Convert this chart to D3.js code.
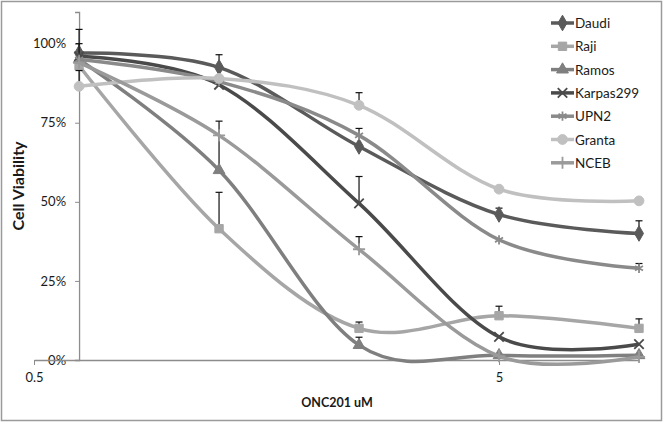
<!DOCTYPE html>
<html>
<head>
<meta charset="utf-8">
<script src="https://cdn.jsdelivr.net/npm/d3@7"></script>
<style>
  body { margin: 0; background: #fff; }
  text { font-family: Lato, "Open Sans", sans-serif; fill: #1a1a1a; }
</style>
</head>
<body>
<svg id="chart" width="664" height="423"></svg>
<script>
// doses (uM) on a log axis
const doses = [0.625, 1.25, 2.5, 5, 10];

const seriesNames = ["Daudi", "Raji", "Ramos", "Karpas299", "UPN2", "Granta", "NCEB"];

// viability in %
const daudi   = [97, 92.5, 67.5, 46, 40];
const raji    = [93, 41.5, 10, 14, 10];
const ramos   = [95, 60, 4.7, 1.5, 1.5];
const karpas  = [96, 87, 49.5, 7.3, 5];
const upn2    = [95, 88, 71, 38, 29];
const granta  = [86.5, 89, 80.5, 54, 50.3];
const nceb    = [94, 71, 35, 1.2, 1];

// plus-only error bars
const daudiErr  = [7.5, 4, 0, 2, 4];
const rajiErr   = [0, 11.5, 2, 3, 3];
const ramosErr  = [0, 15.5, 2.5, 0, 0];
const karpasErr = [4, 0, 8.5, 0, 0];
const upn2Err   = [0, 0, 2.2, 0, 1.5];
const grantaErr = [5, 0, 4, 0, 0];
const ncebErr   = [0, 0, 4, 0, 0];

const yTicks = [0, 0.25, 0.5, 0.75, 1.0];
const xTicks = [0.5, 5];

const values = [daudi, raji, ramos, karpas, upn2, granta, nceb];
const errs = [daudiErr, rajiErr, ramosErr, karpasErr, upn2Err, grantaErr, ncebErr];
const colors = ["#5a5a5a", "#a6a6a6", "#7f7f7f", "#4a4a4a", "#8a8a8a", "#c0c0c0", "#9a9a9a"];
const symbols = [d3.symbolDiamond, d3.symbolSquare, d3.symbolTriangle, d3.symbolX,
                 d3.symbolAsterisk, d3.symbolCircle, d3.symbolPlus];
const symSize = [70, 70, 60, 60, 60, 75, 50];
const strokeSym = [false, false, false, true, true, false, true];

const svg = d3.select("#chart");

// outer frame
svg.append("rect")
  .attr("x", 1.5).attr("y", 1.5)
  .attr("width", 660).attr("height", 419)
  .attr("fill", "none").attr("stroke", "#9a9a9a").attr("stroke-width", 1.5);

const x = d3.scaleLog().domain([0.5, 10]).range([34, 639]);
const y = d3.scaleLinear().domain([0, 1.1]).range([360, 12]);

// y axis crosses at the first dose
const yAxisX = x(doses[0]);
svg.append("g")
  .attr("transform", `translate(${yAxisX},0)`)
  .call(d3.axisLeft(y).tickValues(yTicks).tickFormat(d3.format(".0%")).tickSize(4).tickPadding(9))
  .call(g => g.select(".domain").attr("stroke", "#8c8c8c").attr("stroke-width", 1.3))
  .call(g => g.selectAll(".tick line").attr("stroke", "#8c8c8c"))
  .call(g => g.selectAll(".tick text").attr("font-size", 13).attr("fill", "#1a1a1a")
    .style("font-family", "Lato, 'Open Sans', sans-serif"));

svg.append("g")
  .attr("transform", `translate(0,${y(0)})`)
  .call(d3.axisBottom(x).tickValues(xTicks).tickFormat(d3.format("")).tickSize(5).tickPadding(8).tickSizeOuter(0))
  .call(g => g.select(".domain").attr("stroke", "#8c8c8c").attr("stroke-width", 1.3))
  .call(g => g.selectAll(".tick line").attr("stroke", "#8c8c8c"))
  .call(g => g.selectAll(".tick text").attr("font-size", 13).attr("fill", "#1a1a1a")
    .style("font-family", "Lato, 'Open Sans', sans-serif"));

// axis titles
svg.append("text")
  .attr("transform", "translate(24,186) rotate(-90)")
  .attr("text-anchor", "middle")
  .attr("font-size", 16).attr("font-weight", "bold")
  .text("Cell Viability");

svg.append("text")
  .attr("x", 337).attr("y", 407)
  .attr("text-anchor", "middle")
  .attr("font-size", 12.5).attr("font-weight", "bold")
  .text("ONC201 uM");

const line = d3.line()
  .x(d => x(d[0]))
  .y(d => y(d[1] / 100))
  .curve(d3.curveCardinal.tension(0));

const plot = svg.append("g");

values.forEach((vals, i) => {
  const pts = doses.map((d, j) => [d, vals[j]]);
  const g = plot.append("g");

  // error bars under the line
  pts.forEach((p, j) => {
    const e = errs[i][j];
    if (!e) return;
    const px = x(p[0]), y0 = y(p[1] / 100), y1 = y((p[1] + e) / 100);
    g.append("line").attr("x1", px).attr("x2", px).attr("y1", y0).attr("y2", y1)
      .attr("stroke", "#111").attr("stroke-width", 1.2);
    g.append("line").attr("x1", px - 3.5).attr("x2", px + 3.5).attr("y1", y1).attr("y2", y1)
      .attr("stroke", "#111").attr("stroke-width", 1.2);
  });

  g.append("path")
    .attr("d", line(pts))
    .attr("fill", "none")
    .attr("stroke", colors[i])
    .attr("stroke-width", 3.5);

  g.selectAll("path.mk")
    .data(pts)
    .join("path")
    .attr("class", "mk")
    .attr("transform", d => `translate(${x(d[0])},${y(d[1] / 100)})`)
    .attr("d", d3.symbol(symbols[i], symSize[i]))
    .attr("fill", strokeSym[i] ? "none" : colors[i])
    .attr("stroke", colors[i])
    .attr("stroke-width", strokeSym[i] ? 1.8 : 1);
});

// legend
const legend = svg.append("g").attr("transform", "translate(551,23)");
seriesNames.forEach((name, i) => {
  const row = legend.append("g").attr("transform", `translate(0,${i * 23.3})`);
  row.append("line").attr("x1", 0).attr("x2", 23).attr("y1", 0).attr("y2", 0)
    .attr("stroke", colors[i]).attr("stroke-width", 3.5);
  row.append("path")
    .attr("transform", "translate(11.5,0)")
    .attr("d", d3.symbol(symbols[i], symSize[i]))
    .attr("fill", strokeSym[i] ? "none" : colors[i])
    .attr("stroke", colors[i])
    .attr("stroke-width", strokeSym[i] ? 1.8 : 1);
  row.append("text")
    .attr("x", 24).attr("y", 5)
    .attr("font-size", 13.5)
    .text(name);
});
</script>
</body>
</html>
